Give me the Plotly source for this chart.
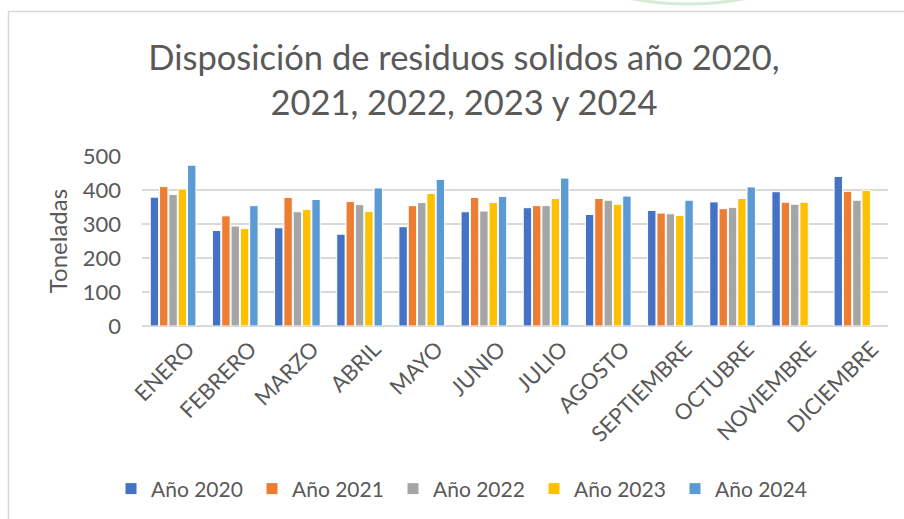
import plotly.graph_objects as go

meses = ["ENERO", "FEBRERO", "MARZO", "ABRIL", "MAYO", "JUNIO", "JULIO",
         "AGOSTO", "SEPTIEMBRE", "OCTUBRE", "NOVIEMBRE", "DICIEMBRE"]

anio_2020 = [379, 281, 289, 270, 292, 336, 348, 328, 340, 365, 395, 440]
anio_2021 = [410, 324, 378, 366, 354, 378, 354, 375, 332, 345, 364, 396]
anio_2022 = [387, 294, 336, 357, 363, 338, 354, 370, 330, 349, 358, 370]
anio_2023 = [403, 287, 343, 337, 390, 363, 375, 358, 325, 375, 364, 399]
anio_2024 = [473, 354, 372, 406, 431, 381, 435, 382, 370, 409, None, None]

series = [
    ("Año 2020", anio_2020, "#4472C4"),
    ("Año 2021", anio_2021, "#ED7D31"),
    ("Año 2022", anio_2022, "#A5A5A5"),
    ("Año 2023", anio_2023, "#FFC000"),
    ("Año 2024", anio_2024, "#5B9BD5"),
]

W, H = 904, 519
L, R, T, B = 142, 16, 156, 193
PW, PH = W - L - R, H - T - B


def px_x(px):
    return (px - L) / PW


def px_y(py):
    return (H - B - py) / PH


def cx(px):
    return px / W


def cy(py):
    return (H - py) / H


fig = go.Figure()
for name, vals, color in series:
    fig.add_trace(go.Bar(
        x=meses, y=vals, name=name,
        marker=dict(color=color, line=dict(color="white", width=1)),
    ))

font_family = "Lato, 'Open Sans', sans-serif"
txt = "#595959"

fig.update_layout(
    width=W, height=H,
    margin=dict(l=L, r=R, t=T, b=B, autoexpand=False),
    paper_bgcolor="white", plot_bgcolor="white",
    barmode="group", bargap=0.25, bargroupgap=0.1,
    font=dict(family=font_family, color=txt, size=21),
    title=dict(
        text="Disposición de residuos solidos año 2020,<br>2021, 2022, 2023 y 2024",
        x=cx(464), xref="container", xanchor="center",
        y=cy(70), yref="container", yanchor="middle",
        font=dict(family=font_family, size=34.5, color=txt),
    ),
    xaxis=dict(
        tickangle=-45, tickfont=dict(size=22, color=txt),
        showgrid=False, showline=False, ticks="", automargin=False,
        ticklabelshift=15, ticklabelstandoff=5,
    ),
    yaxis=dict(
        range=[0, 500], dtick=100, tickfont=dict(size=22, color=txt),
        gridcolor="#D9D9D9", gridwidth=1.5, zeroline=True,
        zerolinecolor="#D9D9D9", zerolinewidth=1.5, showline=False,
        ticks="", ticklen=0, automargin=False, ticklabelstandoff=20,
        title=dict(text="Toneladas", font=dict(size=24, color=txt), standoff=8),
    ),
    legend=dict(
        orientation="h", xref="container", yref="container",
        x=cx(111), xanchor="left",
        y=cy(489), yanchor="middle",
        font=dict(size=21, color=txt),
        entrywidth=96, entrywidthmode="pixels", itemwidth=30,
        traceorder="normal",
    ),
    shapes=[
        dict(type="rect", xref="paper", yref="paper",
             x0=px_x(8.5), x1=px_x(930), y0=px_y(11.5), y1=px_y(560),
             line=dict(color="#D9D9D9", width=1.5), layer="below"),
        dict(type="circle", xref="paper", yref="paper",
             x0=px_x(688 - 300), x1=px_x(688 + 300),
             y0=px_y(4), y1=px_y(-596),
             line=dict(color="#D4ECD5", width=3), layer="below"),
    ],
)

fig.write_html("out.html", config={"displayModeBar": False},
               post_script="document.body.style.margin='0';")
